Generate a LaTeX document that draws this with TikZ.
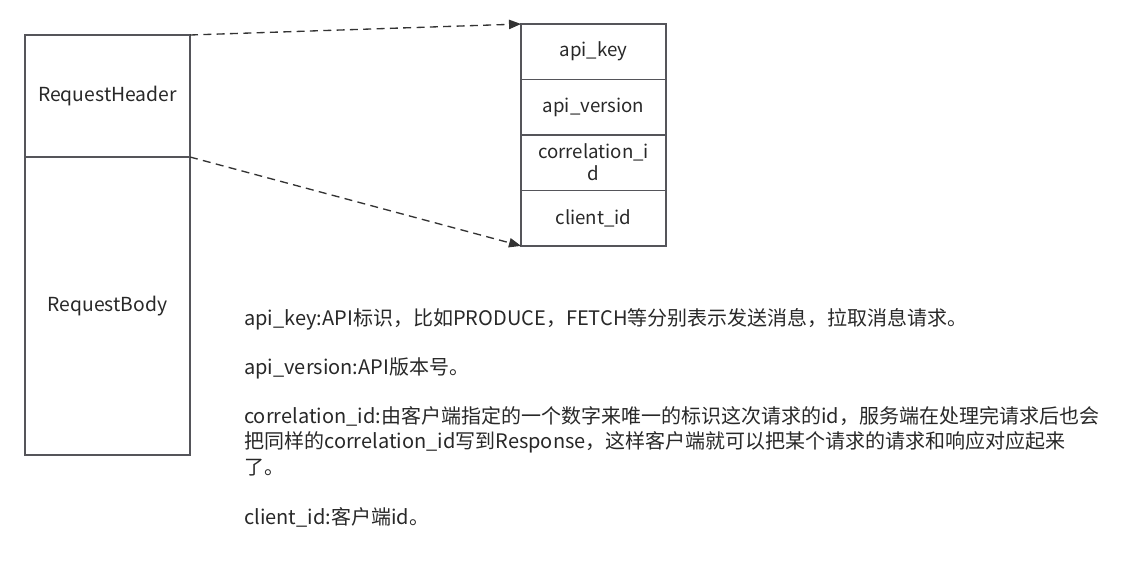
\documentclass[tikz,border=0pt]{standalone}
\usepackage{fontspec}
\setmainfont{Noto Sans CJK SC}
\usetikzlibrary{arrows.meta, positioning}
\definecolor{boxline}{RGB}{85, 85, 90}
\definecolor{txtgray}{RGB}{40, 40, 40}

\begin{document}
\begin{tikzpicture}[x=0.75pt, y=-0.75pt,
  part/.style={draw=boxline, line width=1.1pt, minimum width=123.75pt, outer sep=0pt,
               font=\fontsize{14.5}{17}\selectfont, text=txtgray},
  cell/.style={draw=boxline, line width=1.1pt, minimum width=108.75pt, minimum height=41.6pt,
               outer sep=0pt, inner sep=2pt, font=\fontsize{14}{16.5}\selectfont,
               text=txtgray, align=center},
  link/.style={-{Triangle[length=9pt, width=7pt]}, dash pattern=on 6pt off 4pt,
               line width=1pt, black!80},
  note/.style={anchor=base west, align=left, inner sep=0pt, text=txtgray,
               font=\fontsize{15}{19}\selectfont},
]
\useasboundingbox (0,0) rectangle (1125,579);

% request = header + body
\node[part, minimum height=91.5pt, anchor=north west] (hdr) at (25,35) {RequestHeader};
\node[part, minimum height=223.5pt, below=0pt of hdr] (body) {RequestBody};

% header fields
\node[cell, anchor=north west] (key) at (521,24) {api\_key};
\node[cell, below=0pt of key] (ver) {api\_version};
\node[cell, below=0pt of ver] (corr) {correlation\_i\\d};
\node[cell, below=0pt of corr] (cid) {client\_id};

\draw[link] (hdr.north east) -- (key.north west);
\draw[link] (hdr.south east) -- (cid.south west);

% explanations (multi-line note sits on its last baseline)
\node[note] (nkey) at (244,325) {api\_key:API标识，比如PRODUCE，FETCH等分别表示发送消息，拉取消息请求。};
\node[note] (nver) at (244,374) {api\_version:API版本号。};
\node[note] (ncorr) at (244,474) {correlation\_id:由客户端指定的一个数字来唯一的标识这次请求的id，服务端在处理完请求后也会\\
把同样的correlation\_id写到Response，这样客户端就可以把某个请求的请求和响应对应起来\\
了。};
\node[note] (ncid) at (244,524) {client\_id:客户端id。};
\end{tikzpicture}
\end{document}
